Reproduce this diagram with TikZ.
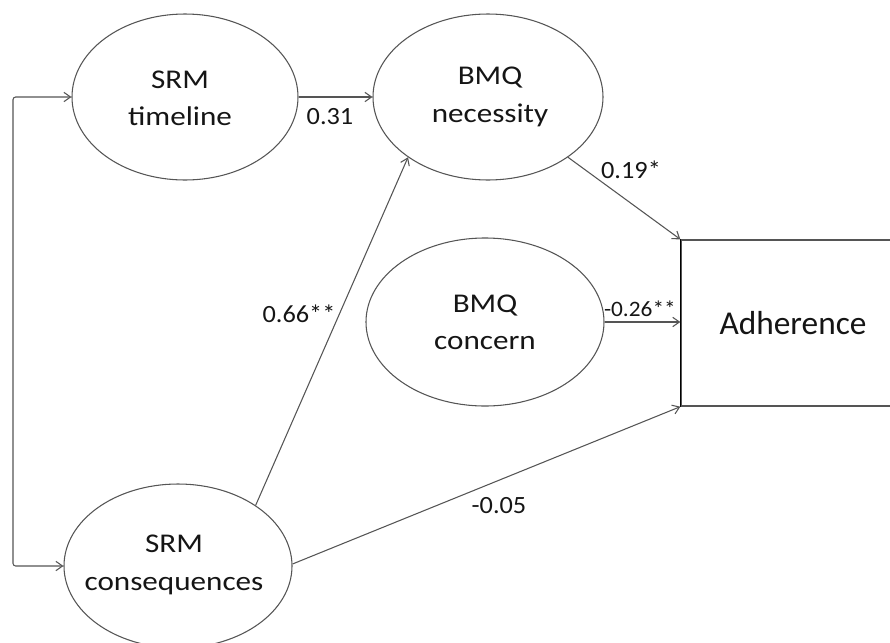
\documentclass[tikz,border=0pt]{standalone}
\usepackage{fontspec}
\usetikzlibrary{shapes.geometric,arrows.meta}
% Calibri-metric face, widened for the oval captions and path weights
\newfontfamily\ovalfont{Carlito}[FakeStretch=1.15]
\newfontfamily\pathfont{Carlito}[FakeStretch=1.06]
\newfontfamily\boxfont{Carlito}
\definecolor{edge}{HTML}{555555}
\definecolor{ink}{HTML}{151515}

\begin{document}
\begin{tikzpicture}[x=0.75pt,y=-0.75pt,
  oval/.style={ellipse,draw=edge,line width=0.8pt,inner sep=0pt},
  ovaltext/.style={font=\ovalfont\fontsize{20.3pt}{28pt}\selectfont,
    text=ink,align=center,inner sep=0pt},
  outcome/.style={rectangle,draw=edge,line width=1pt,inner sep=0pt,
    minimum width=168pt,minimum height=124.5pt,
    font=\boxfont\fontsize{25pt}{28pt}\selectfont,text=ink},
  weight/.style={font=\pathfont\fontsize{18.6pt}{20pt}\selectfont,
    text=ink,inner sep=0pt},
  path/.style={draw=edge,line width=0.8pt,
    -{Straight Barb[length=5pt,width=7pt]}}]

\useasboundingbox (0,0) rectangle (890,643);
\clip (0,0) rectangle (890,643);

% latent constructs
\node[oval,minimum width=169.5pt,minimum height=124.5pt] (tl)  at (185,97)  {};
\node[oval,minimum width=172.5pt,minimum height=124.5pt] (nec) at (488,97)  {};
\node[oval,minimum width=178.5pt,minimum height=126pt]   (con) at (485,322) {};
\node[oval,minimum width=171pt,minimum height=123pt]     (cq)  at (178,566) {};

\node[ovaltext] (tlT)  at (180,98)  {SRM\\timeline};
\node[ovaltext] (necT) at (490,97)  {BMQ\\necessity};
\node[ovaltext] (conT) at (485,322) {BMQ\\concern};
\node[ovaltext] (cqT)  at (174,565) {SRM\\consequences};

% outcome box, running off the right edge
\node[outcome] (adh) at (793,323) {Adherence};
\draw[black,line width=1pt] (adh.north west) -- (adh.south west);

% covariance between the two SRM scales
\coordinate (bk) at (13,0);
\draw[draw=edge,line width=0.8pt,rounded corners=2pt,
  {Straight Barb[length=5pt,width=7pt]}-{Straight Barb[length=5pt,width=7pt]}]
  (tl.west) -- (tl.west -| bk) -- (cq.west -| bk) -- (cq.west);

% structural paths
\draw[path] (tl.east) -- (nec.west);
\draw[path] (cq.38) -- (nec.217);
\draw[path] (nec.-37) -- (adh.north west);
\draw[path] (con.east) -- (con.east -| adh.west);
\draw[path] (cq.1) -- (adh.south west);

% path coefficients
\node[weight] (w1) at (330,117) {0.31};
\node[weight] (w2) at (299,314) {0.66**};
\node[weight] (w3) at (631,170) {0.19*};
\node[weight,font=\pathfont\fontsize{16.5pt}{18pt}\selectfont,anchor=east]
  (w4) at (676,309) {-0.26**};
\node[weight] (w5) at (499,506) {-0.05};
\end{tikzpicture}
\end{document}
